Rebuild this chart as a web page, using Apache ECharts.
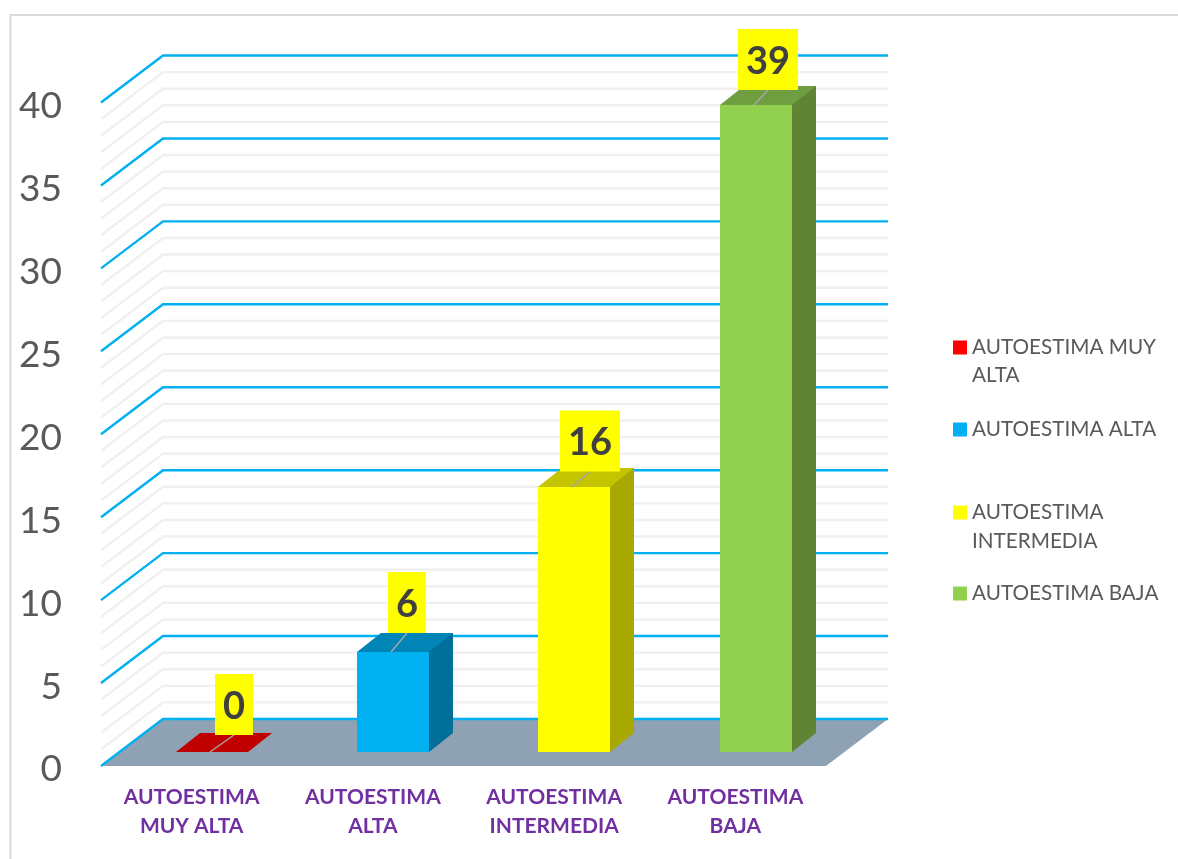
<!DOCTYPE html>
<html>
<head>
<meta charset="utf-8">
<style>html,body{margin:0;padding:0;background:#fff}#c{width:1178px;height:859px}</style>
<script src="https://cdn.jsdelivr.net/npm/echarts@6/dist/echarts.min.js"></script>
</head>
<body>
<div id="c"></div>
<script>
const categories = ['AUTOESTIMA MUY ALTA', 'AUTOESTIMA ALTA', 'AUTOESTIMA INTERMEDIA', 'AUTOESTIMA BAJA'];
const axisLabels = ['AUTOESTIMA\nMUY ALTA', 'AUTOESTIMA\nALTA', 'AUTOESTIMA\nINTERMEDIA', 'AUTOESTIMA\nBAJA'];
const values = [0, 6, 16, 39];
const majorLevels = [0, 5, 10, 15, 20, 25, 30, 35, 40];
const minorLevels = [1, 2, 3, 4, 6, 7, 8, 9, 11, 12, 13, 14, 16, 17, 18, 19, 21, 22, 23, 24, 26, 27, 28, 29, 31, 32, 33, 34, 36, 37, 38, 39];

const frontColors = ['#ff0000', '#00b0f0', '#ffff00', '#92d050'];
const topColors = ['#c00000', '#0085b6', '#c4c400', '#6f9e40'];
const sideColors = ['#c00000', '#006f9a', '#a8a800', '#5f8534'];

// Layout of the pseudo-3D box, in pixels
const WALL_DX = 62, WALL_DY = 47;
const BAR_W = 72, BAR_FRONT_DX = 20.3, BAR_FRONT_DY = 14, BAR_DEPTH_DX = 24, BAR_DEPTH_DY = 19;
const LABEL_H = 61;
const labelW = [38, 38, 60, 60];
const labelShiftX = [22, 14, 16, 12];
const labelGapY = [17, 19, 15.5, 15];
const FONT = 'Lato';

const legendTops = [337, 419, 502, 583];
const legendLines = [
  ['AUTOESTIMA MUY', 'ALTA'],
  ['AUTOESTIMA ALTA'],
  ['AUTOESTIMA', 'INTERMEDIA'],
  ['AUTOESTIMA BAJA']
];

function wallRender(params, api) {
  const level = api.value(0);
  const color = api.value(1) ? '#00b0f0' : '#f0f0f0';
  const rect = params.coordSys;
  const y = api.coord([0, level])[1];
  const xL = rect.x, xR = rect.x + rect.width;
  return {
    type: 'polyline',
    silent: true,
    shape: { points: [[xL, y], [xL + WALL_DX, y - WALL_DY], [xR + WALL_DX, y - WALL_DY]] },
    style: { stroke: color, lineWidth: 2.4, fill: null },
    z2: api.value(1) ? 2 : 1
  };
}

function floorRender(params, api) {
  const rect = params.coordSys;
  const y = api.coord([0, 0])[1];
  const xL = rect.x, xR = rect.x + rect.width;
  return {
    type: 'polygon',
    silent: true,
    shape: { points: [[xL, y], [xL + WALL_DX, y - WALL_DY], [xR + WALL_DX, y - WALL_DY], [xR, y]] },
    style: { fill: '#8fa2b4' },
    z2: 0
  };
}

function barRender(params, api) {
  const i = api.value(0), v = api.value(1);
  const base = api.coord([i, 0]);
  const head = api.coord([i, v]);
  const xL = Math.round(base[0] - BAR_W / 2 + BAR_FRONT_DX);
  const xR = xL + BAR_W;
  const yB = Math.round(base[1] - BAR_FRONT_DY);
  const yT = Math.round(head[1] - BAR_FRONT_DY);
  const dx = BAR_DEPTH_DX, dy = BAR_DEPTH_DY;
  const midX = (xL + xR) / 2;
  const lx = midX + labelShiftX[i];
  const lBottom = yT - labelGapY[i];
  const children = [];
  if (v > 0) {
    // the side and top overlap the front by a pixel so nothing shows through the shared edge
    children.push({ type: 'polygon', shape: { points: [[xR - 1, yB], [xR, yB], [xR + dx, yB - dy], [xR + dx, yT - dy], [xR - 1, yT - dy], [xR - 1, yT]] }, style: { fill: sideColors[i] } });
    children.push({ type: 'rect', shape: { x: xL, y: yT, width: BAR_W, height: yB - yT }, style: { fill: frontColors[i] } });
  }
  children.push({ type: 'polygon', shape: { points: [[xL, yT], [xL + dx, yT - dy], [xR + dx, yT - dy], [xR, yT]] }, style: { fill: topColors[i] } });
  children.push({ type: 'line', shape: { x1: midX - 2, y1: yT, x2: lx, y2: lBottom }, style: { stroke: '#a6a6a6', lineWidth: 1.5 } });
  children.push({ type: 'rect', shape: { x: lx - labelW[i] / 2, y: lBottom - LABEL_H, width: labelW[i], height: LABEL_H }, style: { fill: '#ffff00' } });
  children.push({
    type: 'text',
    style: {
      x: lx, y: lBottom - LABEL_H / 2 + 2, text: String(v), align: 'center', verticalAlign: 'middle',
      fill: '#404040', font: 'bold 38px ' + FONT
    }
  });
  return { type: 'group', children };
}

const barSeries = categories.map((name, i) => ({
  type: 'custom',
  name,
  coordinateSystem: 'cartesian2d',
  renderItem: barRender,
  clip: false,
  silent: true,
  z: 5 + i,
  itemStyle: { color: frontColors[i] },
  encode: { x: 0, y: 1 },
  data: [[i, values[i]]]
}));

const legends = categories.map((name, i) => ({
  left: 953,
  top: legendTops[i],
  orient: 'vertical',
  icon: 'rect',
  itemWidth: 14,
  itemHeight: 14,
  selectedMode: false,
  padding: 0,
  formatter: () => legendLines[i][0],
  textStyle: { fontFamily: FONT, fontSize: 20.7, color: '#595959', padding: 0 },
  data: [{ name, itemStyle: { color: frontColors[i] } }]
}));

const graphicEls = [
  { type: 'polyline', silent: true, shape: { points: [[10.5, 859], [10.5, 15], [1178, 15]] }, style: { stroke: '#d9d9d9', lineWidth: 2, fill: null } }
];
legendLines.forEach((lines, i) => {
  if (lines[1]) {
    graphicEls.push({
      type: 'text', silent: true, left: 972, top: legendTops[i] + 28 + (i === 2 ? 1 : 0),
      style: { text: lines[1], font: '20.7px ' + FONT, fill: '#595959' }
    });
  }
});

const chart = echarts.init(document.getElementById('c'), null, { renderer: 'canvas' });
chart.setOption({
  animation: false,
  backgroundColor: '#ffffff',
  grid: { left: 101, right: 352, top: 102.5, bottom: 93, containLabel: false },
  legend: legends,
  graphic: graphicEls,
  xAxis: {
    type: 'category',
    data: categories,
    axisLine: { show: false },
    axisTick: { show: false },
    splitLine: { show: false },
    axisLabel: {
      interval: 0,
      margin: 17,
      formatter: (_, idx) => axisLabels[idx],
      fontFamily: FONT, fontSize: 21, fontWeight: 'bold', color: '#7030a0', lineHeight: 29
    }
  },
  yAxis: {
    type: 'value',
    min: 0, max: 40, interval: 5,
    axisLine: { show: false },
    axisTick: { show: false },
    splitLine: { show: false },
    axisLabel: {
      margin: 39,
      formatter: v => '{t|' + v + '}',
      rich: { t: { fontFamily: FONT, fontSize: 37, color: '#595959', padding: [7, 0, 0, 0] } }
    }
  },
  series: [
    { type: 'custom', name: 'floor', coordinateSystem: 'cartesian2d', renderItem: floorRender, clip: false, silent: true, z: 1, data: [[0]] },
    { type: 'custom', name: 'minor', coordinateSystem: 'cartesian2d', renderItem: wallRender, clip: false, silent: true, z: 2, encode: { y: 0 }, data: minorLevels.map(l => [l, 0]) },
    { type: 'custom', name: 'major', coordinateSystem: 'cartesian2d', renderItem: wallRender, clip: false, silent: true, z: 3, encode: { y: 0 }, data: majorLevels.map(l => [l, 1]) }
  ].concat(barSeries)
});
</script>
</body>
</html>
